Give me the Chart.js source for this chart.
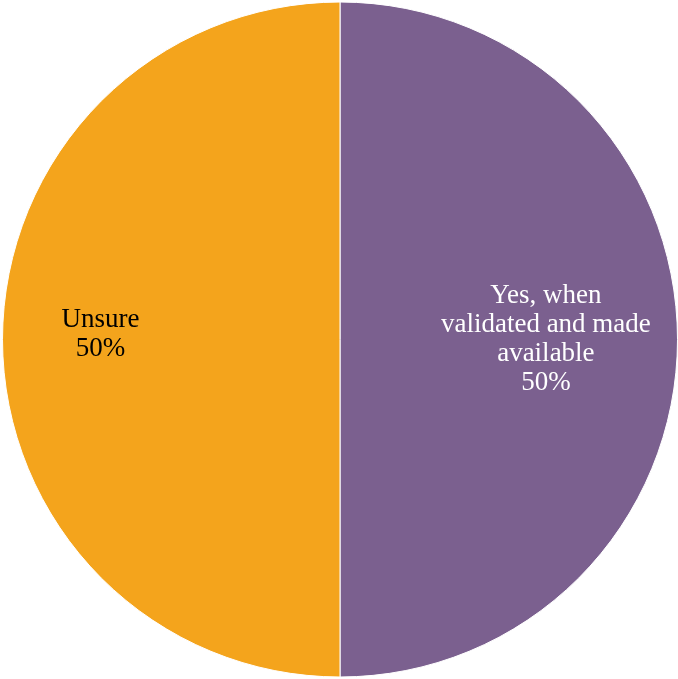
<!DOCTYPE html>
<html>
<head>
<meta charset="utf-8">
<script src="https://cdn.jsdelivr.net/npm/chart.js@4"></script>
<style>
  html, body { margin: 0; padding: 0; background: #ffffff; }
  #wrap { width: 678px; height: 679px; }
</style>
</head>
<body>
<div id="wrap"><canvas id="grafico"></canvas></div>
<script>
// Respostas
const categorias = ["Yes, when validated and made available", "Unsure"];
const linhasRotulo = [["Yes, when", "validated and made", "available"], ["Unsure"]];
const valores = [50, 50];
const cores = ["#7B608F", "#F4A41C"];
const coresTexto = ["#ffffff", "#000000"];

// Rótulos dentro das fatias (categoria + percentual)
const rotulosFatias = {
    id: "rotulosFatias",
    afterDatasetsDraw(chart) {
        const ctx = chart.ctx;
        const meta = chart.getDatasetMeta(0);
        const total = valores.reduce((a, b) => a + b, 0);
        const distancias = [0.61, 0.71];
        const ajusteY = [0, -5];
        ctx.save();
        ctx.font = "27px 'Liberation Serif'";
        ctx.textAlign = "center";
        ctx.textBaseline = "middle";
        meta.data.forEach((arco, i) => {
            const p = arco.getProps(["x", "y", "startAngle", "endAngle", "outerRadius"], true);
            const meio = (p.startAngle + p.endAngle) / 2;
            const r = p.outerRadius * distancias[i];
            const cx = p.x + Math.cos(meio) * r;
            const cy = p.y + Math.sin(meio) * r + ajusteY[i];
            const linhas = linhasRotulo[i].concat([Math.round(valores[i] / total * 100) + "%"]);
            const altura = 29;
            const inicio = cy - (linhas.length - 1) * altura / 2;
            ctx.fillStyle = coresTexto[i];
            linhas.forEach((linha, j) => {
                ctx.fillText(linha, cx, inicio + j * altura);
            });
        });
        ctx.restore();
    }
};

new Chart(document.getElementById("grafico").getContext("2d"), {
    type: "pie",
    data: {
        labels: categorias,
        datasets: [{
            data: valores,
            backgroundColor: cores,
            borderColor: "#ffffff",
            borderWidth: 1
        }]
    },
    options: {
        responsive: true,
        maintainAspectRatio: false,
        animation: false,
        layout: {
            padding: { top: 1, left: 2, right: 0, bottom: 1 }
        },
        plugins: {
            legend: { display: false },
            tooltip: { enabled: false }
        }
    },
    plugins: [rotulosFatias]
});
</script>
</body>
</html>
